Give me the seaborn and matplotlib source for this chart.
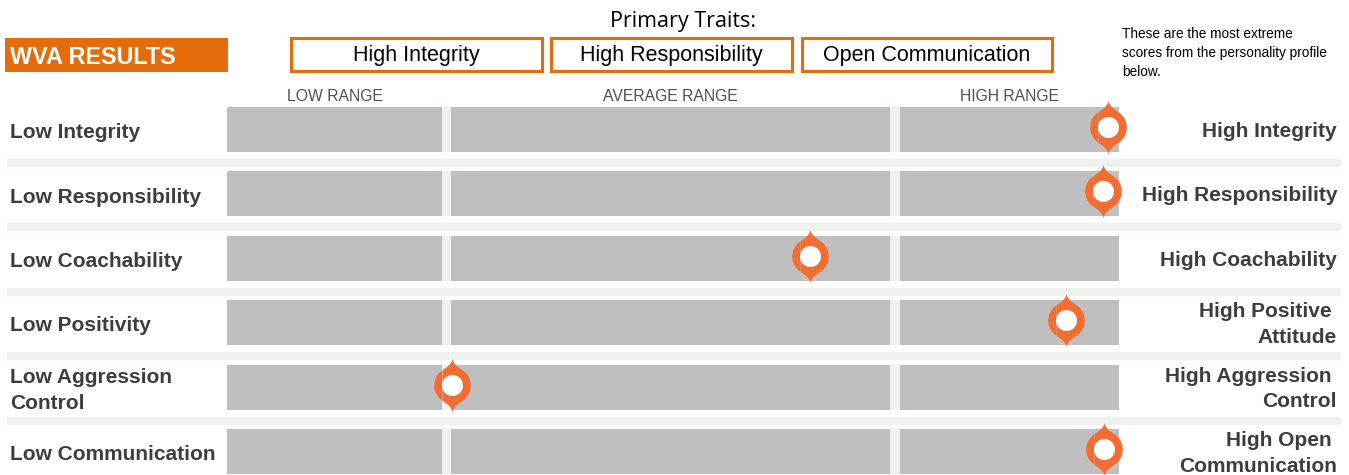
import numpy as np
import pandas as pd
import seaborn as sns
import matplotlib.pyplot as plt
from matplotlib.path import Path
from matplotlib.patches import Rectangle
from matplotlib.transforms import blended_transform_factory

# data
low_labels = ["Low Integrity", "Low Responsibility", "Low Coachability",
              "Low Positivity", "Low Aggression\nControl", "Low Communication"]
high_labels = ["High Integrity", "High Responsibility", "High Coachability",
               "High Positive \nAttitude", "High Aggression \nControl",
               "High Open \nCommunication"]
scores = [98.8, 98.2, 65.4, 94.1, 25.2, 98.3]

range_names = ["LOW RANGE", "AVERAGE RANGE", "HIGH RANGE"]
range_start = [0, 25.1, 75.45]
range_end = [24.1, 74.3, 100]

primary_traits = ["High Integrity", "High Responsibility", "Open Communication"]

ORANGE = "#e46c0a"
PIN = "#f26d32"
BAR = "#bfbfbf"
LIGHT = "#eef2ef"
TXT = "#3d3d3d"

sns.set_theme(style="white")
plt.rcParams['font.family'] = ['Liberation Sans', 'DejaVu Sans']

W, H = 1349, 475
fig = plt.figure(figsize=(W / 100, H / 100), dpi=100)

# main axes over the bar area
ax = fig.add_axes([227 / W, 0, 892 / W, 368 / H])
ax.set_xlim(0, 100)
ax.set_ylim(5.365, -0.349)
ax.axis("off")

rows = np.arange(len(low_labels))
bar_h = 0.699

# row separators (full width)
for r in rows[:-1]:
    ax.barh(r + 0.52, 149.6, left=-24.66, height=0.124, color=LIGHT,
            linewidth=0, clip_on=False, zorder=0)

# light background, then gray range segments
ax.barh(rows, 100, left=0, height=bar_h, color=LIGHT, linewidth=0, zorder=1)
for s, e in zip(range_start, range_end):
    ax.barh(rows, e - s, left=s, height=bar_h, color=BAR, linewidth=0, zorder=2)

for name, s, e in zip(range_names, range_start, range_end):
    ax.text((s + e) / 2, -0.505, name, ha="center", va="center",
            fontsize=11.3, color="#505050")

# pin marker: circle with thin concave spikes top and bottom
base = np.radians(58)
t = np.linspace(0, 1, 12)
flank_x = np.cos(base) * t ** 2
flank_y = 1.5 - (1.5 - np.sin(base)) * t
ang_r = np.linspace(base, -base, 40)
ang_l = np.linspace(np.pi + base, np.pi - base, 40)
xs = np.concatenate([flank_x, np.cos(ang_r), flank_x[::-1], -flank_x, np.cos(ang_l), -flank_x[::-1]])
ys = np.concatenate([flank_y, np.sin(ang_r), -flank_y[::-1], -flank_y, -np.sin(ang_l), flank_y[::-1]])
pin = Path(np.column_stack([xs, ys]), closed=True)

df = pd.DataFrame({"score": scores, "row": rows - 0.04})
sns.scatterplot(data=df, x="score", y="row", marker=pin, s=1560, color=PIN,
                linewidth=0, ax=ax, legend=False, zorder=5, clip_on=False)
sns.scatterplot(data=df, x="score", y="row", marker="o", s=229, color="white",
                linewidth=0, ax=ax, legend=False, zorder=6, clip_on=False)

# row labels
tr = blended_transform_factory(fig.transFigure, ax.transData)
for r, lo, hi in zip(rows, low_labels, high_labels):
    ax.text(10 / W, r + 0.05, lo, transform=tr, ha="left", va="center",
            fontsize=15, fontweight="bold", color=TXT, linespacing=1.45)
    ax.text(1337 / W, r + 0.03, hi, transform=tr, ha="right", va="center",
            fontsize=15, fontweight="bold", color=TXT, linespacing=1.45,
            multialignment="right")

# header
fig.add_artist(Rectangle((5 / W, 1 - 72 / H), 223 / W, 34 / H,
                         transform=fig.transFigure, color=ORANGE, lw=0))
fig.text(10 / W, 1 - 57.5 / H, "WVA RESULTS", color="white", fontsize=16.8,
         fontweight="bold", va="center", ha="left")

box_left = [290.5, 551, 802]
box_right = [541.5, 792, 1051.5]
for t_, l, r in zip(primary_traits, box_left, box_right):
    fig.add_artist(Rectangle((l / W, 1 - 71 / H), (r - l) / W, 33 / H,
                             transform=fig.transFigure, facecolor="white",
                             edgecolor=ORANGE, lw=2.2))
    fig.text((l + r) / 2 / W, 1 - 56 / H, t_, ha="center", va="center",
             fontsize=15.5, color="black")

fig.text(683 / W, 1 - 21 / H, "Primary Traits:", ha="center", va="center",
         fontsize=15.5, color="black", family=["Open Sans", "DejaVu Sans"])

fig.text(1122 / W, 1 - 53 / H,
         "These are the most extreme\nscores from the personality profile\nbelow.",
         ha="left", va="center", fontsize=9.8, color="black", linespacing=1.45)

fig.savefig("out.png", dpi=100)
